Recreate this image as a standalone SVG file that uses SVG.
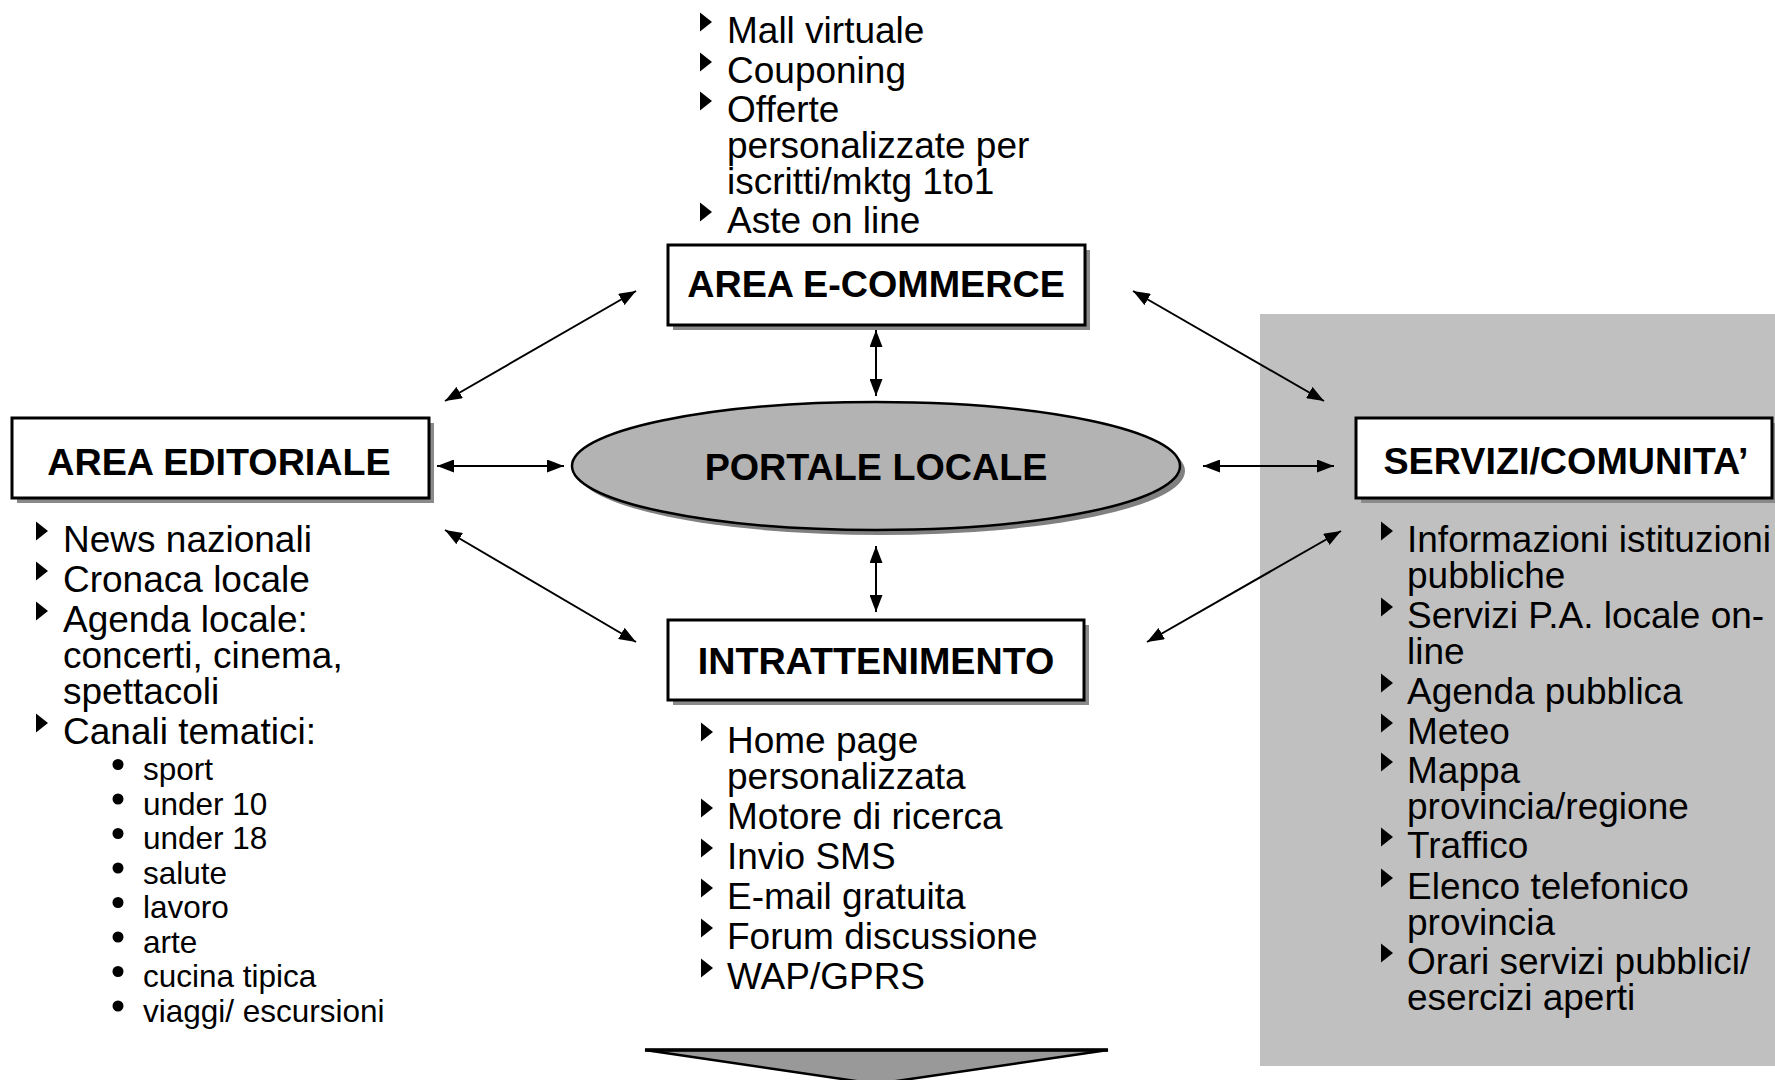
<svg xmlns="http://www.w3.org/2000/svg" width="1775" height="1080" viewBox="0 0 1775 1080">
<style>
  text { font-family: "Liberation Sans", Arial, sans-serif; fill: #000; }
  .lbl { font-weight: bold; font-size: 37.7px; text-anchor: middle; }
  .item { font-size: 37px; }
  .sub { font-size: 31.5px; }
  .box { fill: #fff; stroke: #000; stroke-width: 3; }
  .shadow { fill: #8a8a8a; }
  .conn { stroke: #000; stroke-width: 2; fill: none; marker-start: url(#ah); marker-end: url(#ah); }
</style>
<defs>
  <marker id="ah" viewBox="0 0 17 13" refX="17" refY="6.5" markerWidth="17" markerHeight="13" markerUnits="userSpaceOnUse" orient="auto-start-reverse">
    <path d="M0,0 L17,6.5 L0,13 Z" fill="#000"/>
  </marker>
  <path id="tri" d="M0,-9.5 L12,0 L0,9.5 Z" fill="#000"/>
</defs>

<rect id="panel" x="1260" y="314" width="515" height="752" fill="#c0c0c0"/>

<g id="connectors">
  <line class="conn" x1="636" y1="291" x2="445" y2="401"/>
  <line class="conn" x1="437" y1="466" x2="564" y2="466"/>
  <line class="conn" x1="876" y1="330" x2="876" y2="396"/>
  <line class="conn" x1="876" y1="546" x2="876" y2="612"/>
  <line class="conn" x1="445" y1="530" x2="636" y2="642"/>
  <line class="conn" x1="1133" y1="291" x2="1324" y2="401"/>
  <line class="conn" x1="1203" y1="466" x2="1334" y2="466"/>
  <line class="conn" x1="1147" y1="642" x2="1341" y2="531"/>
</g>

<g id="ecommerce">
  <rect class="shadow" x="673" y="250" width="417" height="80"/>
  <rect class="box" x="668" y="245" width="417" height="80"/>
  <text class="lbl" x="876" y="297">AREA E-COMMERCE</text>
  <g id="ecommerce-list">
    <use href="#tri" x="700" y="22"/>
    <use href="#tri" x="700" y="62"/>
    <use href="#tri" x="700" y="101"/>
    <use href="#tri" x="700" y="212"/>
    <text class="item">
      <tspan x="727" y="43">Mall virtuale</tspan>
      <tspan x="727" y="83">Couponing</tspan>
      <tspan x="727" y="122">Offerte</tspan>
      <tspan x="727" y="158">personalizzate per</tspan>
      <tspan x="727" y="194">iscritti/mktg 1to1</tspan>
      <tspan x="727" y="233">Aste on line</tspan>
    </text>
  </g>
</g>

<g id="editoriale">
  <rect class="shadow" x="17" y="423" width="417" height="80"/>
  <rect class="box" x="12" y="418" width="417" height="80"/>
  <text class="lbl" x="219" y="475">AREA EDITORIALE</text>
  <g id="editoriale-list">
    <use href="#tri" x="36" y="531"/>
    <use href="#tri" x="36" y="571"/>
    <use href="#tri" x="36" y="611"/>
    <use href="#tri" x="36" y="723"/>
    <text class="item">
      <tspan x="63" y="552">News nazionali</tspan>
      <tspan x="63" y="592">Cronaca locale</tspan>
      <tspan x="63" y="632">Agenda locale:</tspan>
      <tspan x="63" y="668">concerti, cinema,</tspan>
      <tspan x="63" y="704">spettacoli</tspan>
      <tspan x="63" y="744">Canali tematici:</tspan>
    </text>
    <g fill="#000">
      <circle cx="118" cy="764.5" r="5.5"/>
      <circle cx="118" cy="799" r="5.5"/>
      <circle cx="118" cy="833.5" r="5.5"/>
      <circle cx="118" cy="868" r="5.5"/>
      <circle cx="118" cy="902.5" r="5.5"/>
      <circle cx="118" cy="937" r="5.5"/>
      <circle cx="118" cy="971.5" r="5.5"/>
      <circle cx="118" cy="1006" r="5.5"/>
    </g>
    <text class="sub">
      <tspan x="143" y="780">sport</tspan>
      <tspan x="143" y="814.5">under 10</tspan>
      <tspan x="143" y="849">under 18</tspan>
      <tspan x="143" y="883.5">salute</tspan>
      <tspan x="143" y="918">lavoro</tspan>
      <tspan x="143" y="952.5">arte</tspan>
      <tspan x="143" y="987">cucina tipica</tspan>
      <tspan x="143" y="1021.5">viaggi/ escursioni</tspan>
    </text>
  </g>
</g>

<g id="portale">
  <ellipse cx="881" cy="471" rx="304" ry="64" fill="#808080"/>
  <ellipse cx="876" cy="466" rx="304" ry="64" fill="#b3b3b3" stroke="#000" stroke-width="2.5"/>
  <text class="lbl" x="876" y="480">PORTALE LOCALE</text>
</g>

<g id="intrattenimento">
  <rect class="shadow" x="673" y="625" width="416" height="80"/>
  <rect class="box" x="668" y="620" width="416" height="80"/>
  <text class="lbl" x="876" y="674">INTRATTENIMENTO</text>
  <g id="intrattenimento-list">
    <use href="#tri" x="701" y="732"/>
    <use href="#tri" x="701" y="808"/>
    <use href="#tri" x="701" y="848"/>
    <use href="#tri" x="701" y="888"/>
    <use href="#tri" x="701" y="928"/>
    <use href="#tri" x="701" y="968"/>
    <text class="item">
      <tspan x="727" y="753">Home page</tspan>
      <tspan x="727" y="789">personalizzata</tspan>
      <tspan x="727" y="829">Motore di ricerca</tspan>
      <tspan x="727" y="869">Invio SMS</tspan>
      <tspan x="727" y="909">E-mail gratuita</tspan>
      <tspan x="727" y="949">Forum discussione</tspan>
      <tspan x="727" y="989">WAP/GPRS</tspan>
    </text>
  </g>
</g>

<g id="servizi">
  <rect class="shadow" x="1361" y="423" width="416" height="80"/>
  <rect class="box" x="1356" y="418" width="416" height="80"/>
  <text class="lbl" x="1566" y="474">SERVIZI/COMUNITA’</text>
  <g id="servizi-list">
    <use href="#tri" x="1381" y="531"/>
    <use href="#tri" x="1381" y="607"/>
    <use href="#tri" x="1381" y="683"/>
    <use href="#tri" x="1381" y="723"/>
    <use href="#tri" x="1381" y="762"/>
    <use href="#tri" x="1381" y="837"/>
    <use href="#tri" x="1381" y="878"/>
    <use href="#tri" x="1381" y="953"/>
    <text class="item">
      <tspan x="1407" y="552">Informazioni istituzioni</tspan>
      <tspan x="1407" y="588">pubbliche</tspan>
      <tspan x="1407" y="628">Servizi P.A. locale on-</tspan>
      <tspan x="1407" y="664">line</tspan>
      <tspan x="1407" y="704">Agenda pubblica</tspan>
      <tspan x="1407" y="744">Meteo</tspan>
      <tspan x="1407" y="783">Mappa</tspan>
      <tspan x="1407" y="819">provincia/regione</tspan>
      <tspan x="1407" y="858">Traffico</tspan>
      <tspan x="1407" y="899">Elenco telefonico</tspan>
      <tspan x="1407" y="935">provincia</tspan>
      <tspan x="1407" y="974">Orari servizi pubblici/</tspan>
      <tspan x="1407" y="1010">esercizi aperti</tspan>
    </text>
  </g>
</g>

<g id="bottom-arrow">
  <polygon points="645,1050 1108,1050 876,1084" fill="#999999" stroke="#000" stroke-width="2.5" stroke-linejoin="miter"/>
  <line x1="645" y1="1050" x2="1108" y2="1050" stroke="#000" stroke-width="3.5"/>
</g>
</svg>
